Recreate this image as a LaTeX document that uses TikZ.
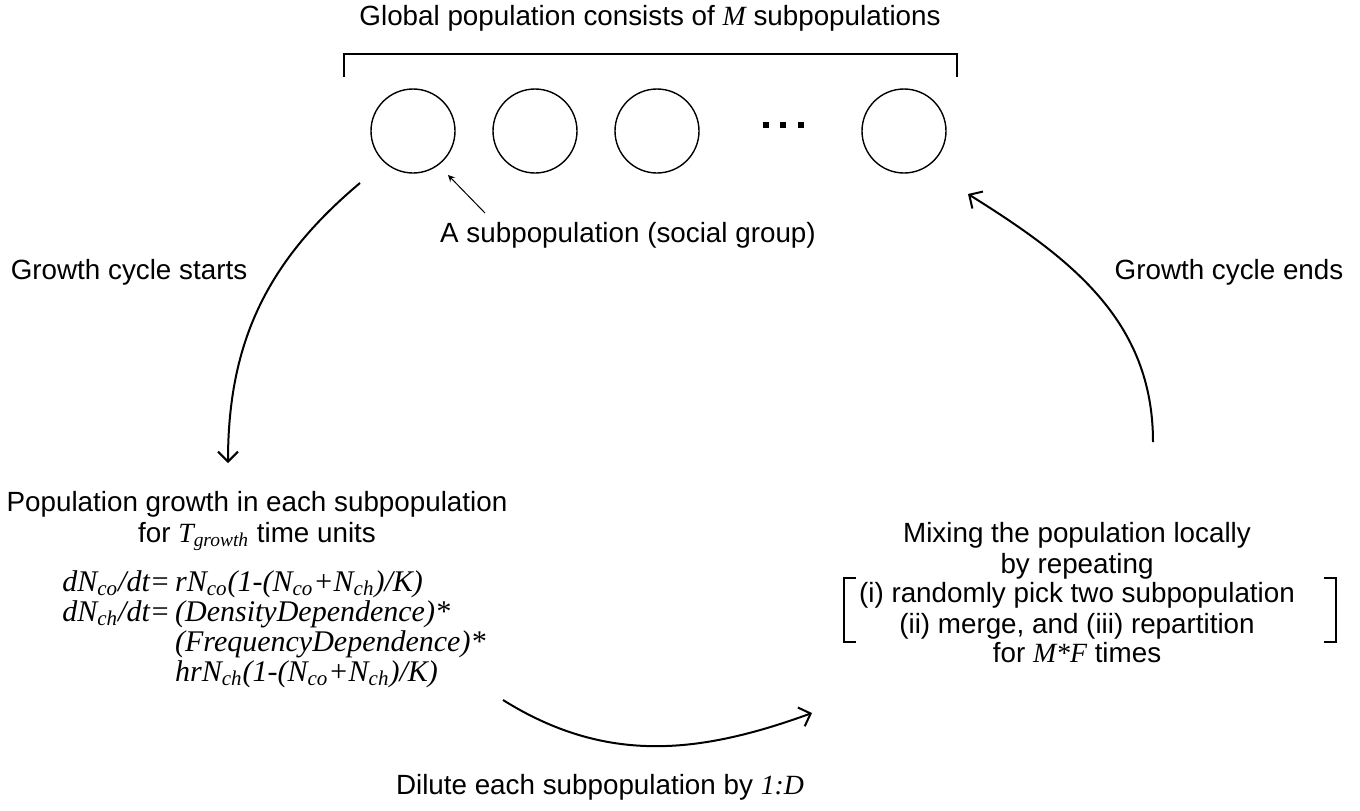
\documentclass[tikz,border=0pt]{standalone}
\usepackage{fontspec}
\setmainfont{Liberation Sans}
\newfontfamily\eqfont{Liberation Serif}
\usetikzlibrary{arrows,arrows.meta,positioning,calc}

\newcommand{\itvar}[1]{{\eqfont\itshape #1}}
\newcommand{\lowidx}[1]{\textsubscript{#1}}

\begin{document}
\begin{tikzpicture}[x=0.5pt, y=-0.5pt,
    txt/.style={font=\fontsize{13.9}{15.5}\selectfont, align=center, inner sep=0pt},
    eqs/.style={font=\eqfont\itshape\fontsize{15}{15}\selectfont, anchor=west, inner sep=0pt},
    subpop/.style={draw, circle, minimum size=42pt, inner sep=0pt, line width=0.7pt},
    cycarrow/.style={line width=1pt, -{Straight Barb[length=5pt, width=10pt]}},
    brk/.style={line width=1pt}]
    \useasboundingbox (0,0) rectangle (1360,810);

    % Global population
    \node[txt] (title) at (650,18) {Global population consists of \itvar{M} subpopulations};
    \draw[brk] (344,77) -- (344,54) -- (957,54) -- (957,77);
    \foreach \x/\n in {413/1, 535/2, 657/3, 904/4}
        \node[subpop] (sub\n) at (\x,131) {};
    \foreach \x in {766,783,801}
        \fill (\x-3,122) rectangle (\x+3,128);

    % Label of one subpopulation
    \node[txt] (sublabel) at (628,235) {A subpopulation (social group)};
    \coordinate (ptail) at (485,213);
    \coordinate (phead) at (448,175);
    \draw[line width=0.5pt, ->, >=stealth] (ptail) -- (phead);

    % Growth phase
    \node[txt] (growth) at (257,521) {Population growth in each subpopulation\\
        for \itvar{T}\lowidx{\itvar{growth}} time units};
    \node[eqs] (odes) at (62,630) {%
        \begin{tabular}{@{}l@{\,}l@{}}
        dN\lowidx{co}/dt= & rN\lowidx{co}(1-(N\lowidx{co}+N\lowidx{ch})/K)\\
        dN\lowidx{ch}/dt= & (DensityDependence)*\\
                          & (FrequencyDependence)*\\
                          & hrN\lowidx{ch}(1-(N\lowidx{co}+N\lowidx{ch})/K)
        \end{tabular}};

    % Mixing phase
    \node[txt] (mixhead) at (1077,551) {Mixing the population locally\\by repeating};
    \node[txt, below=0pt of mixhead, inner ysep=1pt] (mixsteps)
        {(i) randomly pick two subpopulation\\(ii) merge, and (iii) repartition};
    \node[txt, below=0pt of mixsteps] (mixtail) {for \itvar{M*F} times};
    \coordinate (brkL) at ([xshift=-7.5pt, yshift=1pt]mixsteps.north west);
    \coordinate (brkR) at ([xshift=20.5pt, yshift=1pt]mixsteps.north east);
    \draw[brk] ([xshift=6pt]brkL) -- (brkL) -- ++(0,64) -- ++(12,0);
    \draw[brk] ([xshift=-6pt]brkR) -- (brkR) -- ++(0,64) -- ++(-12,0);

    % Cycle labels
    \node[txt] (starts) at (129,272) {Growth cycle starts};
    \node[txt] (ends) at (1229,272) {Growth cycle ends};
    \node[txt] (dilute) at (600,787) {Dilute each subpopulation by \itvar{1:D}};

    % Cycle arrows
    \coordinate (startA) at (360,183);
    \coordinate (startB) at (228,463);
    \coordinate (diluteA) at (503,700);
    \coordinate (diluteB) at (812,713);
    \coordinate (endA) at (1153,442);
    \coordinate (endB) at (968,194);
    \draw[cycarrow] (startA) to[out=220, in=90] (startB);
    \draw[cycarrow] (diluteA) to[out=-32, in=200] (diluteB);
    \draw[cycarrow] (endA) to[out=90, in=-32] (endB);
\end{tikzpicture}
\end{document}
